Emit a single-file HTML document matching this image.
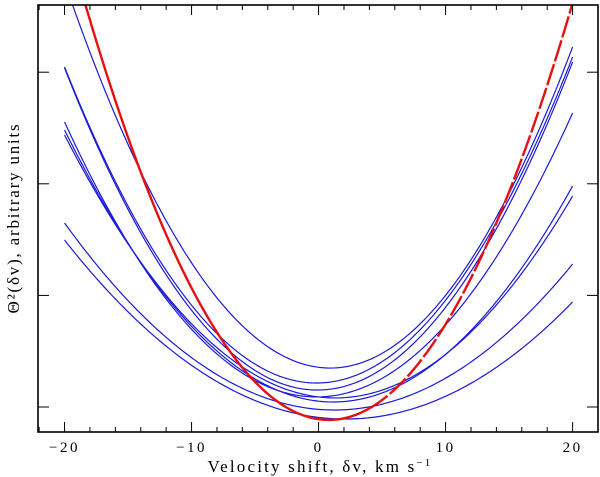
<!DOCTYPE html>
<html><head><meta charset="utf-8">
<style>
html,body{margin:0;padding:0;background:#fff;}
svg{display:block;font-family:"Liberation Serif",serif;}
</style></head>
<body>
<svg id="chart" width="600" height="477" viewBox="0 0 600 477" xmlns="http://www.w3.org/2000/svg">
<defs><clipPath id="plotclip"><rect x="38" y="5" width="560" height="427"/></clipPath></defs>
<g id="curves" clip-path="url(#plotclip)"></g>
<g id="axes"></g>
<text x="320" y="472" text-anchor="middle" font-size="17" letter-spacing="2.2">Velocity shift, δv, km s<tspan font-size="11" dy="-6">−1</tspan></text>
<text transform="translate(19,218) rotate(-90)" text-anchor="middle" font-size="17" letter-spacing="1.8">Θ²(δv), arbitrary units</text>
</svg>
<script>
// data (arbitrary units): value at v=-20, value at v=+20, minimum value
const blueLeft  = [3.808, 3.047, 3.038, 2.554, 2.482, 2.437, 1.649, 1.496];
const blueRight = [3.226, 3.136, 3.091, 2.634, 1.980, 1.890, 1.281, 0.941];
const blueMin   = [0.349, 0.215, 0.152, 0.090, 0.045, 0.081, -0.027, -0.108];
const redLeft = [4.27];
const redRight = [3.62];
const redMin = [-0.116];
const xTicks = [-20, -10, 0, 10, 20];
const xTickLabels = ["−20", "−10", "0", "10", "20"];
const yTicks = [0, 1, 2, 3];

const NS = "http://www.w3.org/2000/svg";
const X0 = 38, X1 = 598, Y0 = 5, Y1 = 432;
const xMin = -22.09, xMax = 22.0;
function xs(v){ return X0 + (v - xMin) / (xMax - xMin) * (X1 - X0); }
function ys(d){ return 407 - d * 111.6; }

function parab(L, R, m){
  const r = Math.sqrt((L - m) / (R - m));
  const c = 20 * (r - 1) / (r + 1);
  const a = (L - m) / Math.pow(20 + c, 2);
  return v => m + a * (v - c) * (v - c);
}
function pathFor(f, v0, v1){
  let d = "";
  for (let v = v0; v <= v1 + 0.0001; v += 0.25){
    d += (d ? "L" : "M") + xs(v).toFixed(2) + "," + ys(f(v)).toFixed(2);
  }
  return d;
}
const curves = document.getElementById("curves");
for (let i = 0; i < blueLeft.length; i++){
  const p = document.createElementNS(NS, "path");
  p.setAttribute("d", pathFor(parab(blueLeft[i], blueRight[i], blueMin[i]), -20, 20));
  p.setAttribute("fill", "none");
  p.setAttribute("stroke", "#1a1ad6");
  p.setAttribute("stroke-width", "1.2");
  
  
  curves.appendChild(p);
}
for (let i = 0; i < redLeft.length; i++){
  const f = parab(redLeft[i], redRight[i], redMin[i]);
  const p = document.createElementNS(NS, "path");
  p.setAttribute("d", pathFor(f, -20, 4));
  p.setAttribute("fill", "none");
  p.setAttribute("stroke", "#e61010");
  p.setAttribute("stroke-width", "2.4");
  
  
  curves.appendChild(p);
  const q = document.createElementNS(NS, "path");
  q.setAttribute("d", pathFor(f, 4, 20));
  q.setAttribute("fill", "none");
  q.setAttribute("stroke", "#e61010");
  q.setAttribute("stroke-width", "2.4");
  q.setAttribute("stroke-dasharray", "22 3");
  
  
  curves.appendChild(q);
}

const axes = document.getElementById("axes");
function line(x1, y1, x2, y2, w){
  const l = document.createElementNS(NS, "line");
  l.setAttribute("x1", x1); l.setAttribute("y1", y1);
  l.setAttribute("x2", x2); l.setAttribute("y2", y2);
  l.setAttribute("stroke", "#000"); l.setAttribute("stroke-width", w);
  
  
  axes.appendChild(l);
}
const frame = document.createElementNS(NS, "rect");
frame.setAttribute("x", X0); frame.setAttribute("y", Y0);
frame.setAttribute("width", X1 - X0); frame.setAttribute("height", Y1 - Y0);
frame.setAttribute("fill", "none"); frame.setAttribute("stroke", "#000"); frame.setAttribute("stroke-width", "1.6");


axes.appendChild(frame);
for (let v = -22; v <= 22; v += 2){
  const major = xTicks.indexOf(v) >= 0;
  const len = major ? 10 : 5;
  line(xs(v), Y1, xs(v), Y1 - len, 1);
  line(xs(v), Y0, xs(v), Y0 + len, 1);
}
xTicks.forEach((v, i) => {
  const t = document.createElementNS(NS, "text");
  t.setAttribute("x", xs(v)); t.setAttribute("y", 452);
  t.setAttribute("text-anchor", "middle"); t.setAttribute("font-size", "15");
  t.setAttribute("letter-spacing", "2.5");
  t.textContent = xTickLabels[i];
  
  
  axes.appendChild(t);
});
yTicks.forEach(d => {
  line(X0, ys(d), X0 + 11, ys(d), 1);
  line(X1, ys(d), X1 - 11, ys(d), 1);
});
</script>
</body></html>
